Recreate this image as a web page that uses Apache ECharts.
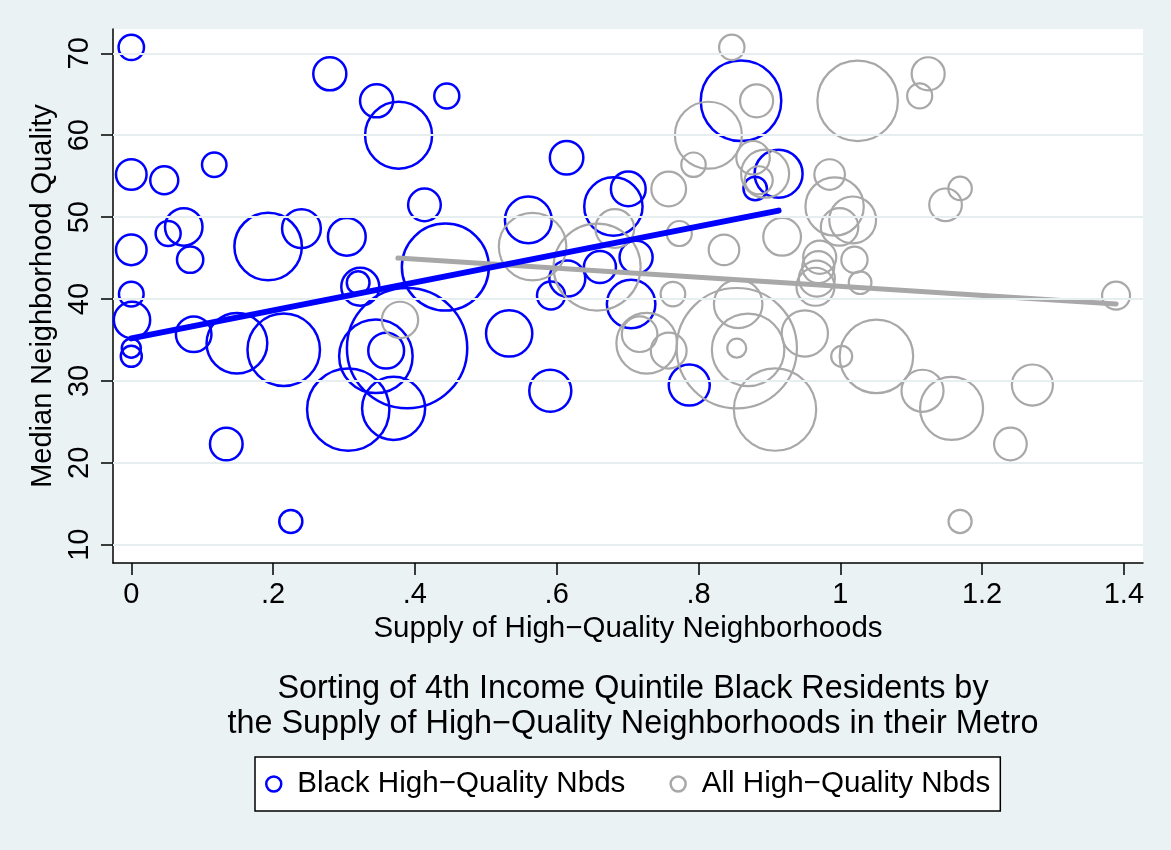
<!DOCTYPE html>
<html>
<head>
<meta charset="utf-8">
<script src="https://cdn.jsdelivr.net/npm/echarts@6/dist/echarts.min.js"></script>
<style>
  html, body { margin: 0; padding: 0; background: #eaf2f3; }
  #chart { width: 1171px; height: 850px; }
</style>
</head>
<body>
<div id="chart"></div>
<script>
// one entry per metro: quality, supply for black residents, supply overall, bubble weight
var quality = [70.73, 67.5, 64.2, 60.0, 64.8, 55.2, 54.5, 56.4, 46.0, 48.0,
    48.8, 44.8, 46.4, 48.6, 47.6, 51.5, 43.9, 42.0, 41.5, 40.6,
    37.45, 34.0, 33.0, 35.7, 34.6, 33.8, 22.3, 12.84, 33.0, 34.0,
    33.7, 26.5, 26.65, 53.5, 55.3, 64.2, 57.25, 51.3, 53.44, 49.66,
    42.5, 43.9, 45.1, 40.42, 39.4, 35.8, 28.8, 29.5];
var supplyBlack = [0, 0.280, 0.346, 0.377, 0.445, 0, 0.0465, 0.117, 0, 0.052,
    0.074, 0.083, 0.193, 0.240, 0.304, 0.4135, 0.443, 0.320, 0.323, 0,
    0.001, 0, 0, 0.088, 0.149, 0.215, 0.134, 0.225, 0.345, 0.389,
    0.3595, 0.306, 0.370, 0.880, 0.913, 0.860, 0.614, 0.680, 0.701, 0.560,
    0.615, 0.661, 0.712, 0.592, 0.705, 0.533, 0.591, 0.787];
var supplyAll = [0.847, 1.124, 0.882, 0.814, 1.112, 0.985, 0.885, 0.793, 0.836, 0.773,
    0.999, 1.020, 0.566, 0.682, 0.918, 1.1485, 0.657, 1.028, 0.965, 0.764,
    0.379, 0.854, 1.002, 0.717, 0.727, 0.870, 1.240, 1.169, 1.051, 0.854,
    0.758, 0.908, 1.157, 1.169, 0.894, 1.0245, 0.877, 0.992, 0.758, 1.0175,
    0.967, 0.969, 0.971, 1.389, 0.856, 0.950, 1.116, 1.271];
var weight = [7.5, 12.3, 12.3, 47.6, 7.3, 10.6, 9.0, 7.0, 10.6, 7.3,
    15.6, 8.0, 48.3, 16.6, 15.8, 12.0, 79.2, 6.1, 16.0, 7.1,
    14.7, 4.4, 5.3, 14.1, 39.3, 55.5, 12.0, 6.3, 57.0, 149.6,
    14.3, 71.1, 42.3, 6.5, 25, 68.1, 12.6, 36.4, 13.5, 23.8,
    14.4, 11.6, 12.3, 9.0, 25.5, 23.3, 19.4, 18.5];

// fitted lines (end points)
var fitBlackX = [0, 0.913], fitBlackY = [35.2, 50.8];
var fitAllX = [0.376, 1.389], fitAllY = [45.0, 39.4];

var xTicks = [0, 0.2, 0.4, 0.6, 0.8, 1, 1.2, 1.4];
var yTicks = [10, 20, 30, 40, 50, 60, 70];

var FONT = '"Liberation Sans", Arial, sans-serif';
var BLUE = '#0000ff', GREY = '#a8a8a8';

var pts = function (xs) {
    return quality.map(function (q, i) { return [xs[i], q, weight[i]]; });
};
var pairs = function (xs, ys) {
    return xs.map(function (x, i) { return [x, ys[i]]; });
};
var bubble = function (v) { return 10 * Math.sqrt(v[2]) - 2; };

var chart = echarts.init(document.getElementById('chart'));
chart.setOption({
    backgroundColor: '#eaf2f3',
    animation: false,
    textStyle: { fontFamily: FONT },
    title: {
        text: 'Sorting of 4th Income Quintile Black Residents by\nthe Supply of High\u2212Quality Neighborhoods in their Metro',
        left: 628,
        top: 667,
        textAlign: 'center',
        textStyle: { fontFamily: FONT, fontSize: 32.4, fontWeight: 'normal', color: '#000', lineHeight: 35 }
    },
    legend: {
        left: 255,
        top: 757,
        padding: [12, 10, 12, 10],
        itemGap: 44,
        itemWidth: 15,
        itemHeight: 15,
        backgroundColor: '#fff',
        borderColor: '#000',
        borderWidth: 1.5,
        borderRadius: 0,
        textStyle: { fontFamily: FONT, fontSize: 29.6, color: '#000', padding: [0, 0, 0, 11] },
        data: [
            { name: 'Black High\u2212Quality Nbds', icon: 'circle',
              itemStyle: { color: 'rgba(0,0,0,0)', borderColor: BLUE, borderWidth: 2.5 } },
            { name: 'All High\u2212Quality Nbds', icon: 'circle',
              itemStyle: { color: 'rgba(0,0,0,0)', borderColor: GREY, borderWidth: 2.5 } }
        ]
    },
    grid: {
        left: 113, top: 29, right: 28, bottom: 287,
        show: true, backgroundColor: '#fff', borderWidth: 0
    },
    xAxis: {
        type: 'value',
        min: -0.0258, max: 1.427,
        name: 'Supply of High\u2212Quality Neighborhoods',
        nameLocation: 'middle',
        nameGap: 46,
        nameTextStyle: { fontFamily: FONT, fontSize: 29.5, color: '#000' },
        axisLine: { show: true, onZero: false, lineStyle: { color: '#000', width: 1.5 } },
        axisTick: { show: true, customValues: xTicks, length: 12, lineStyle: { color: '#000', width: 1.5 } },
        axisLabel: {
            customValues: xTicks, margin: 17, fontFamily: FONT, fontSize: 29, color: '#000',
            formatter: function (v) { return String(Number(v.toFixed(1))).replace(/^0\./, '.'); }
        },
        splitLine: { show: false }
    },
    yAxis: {
        type: 'value',
        min: 7.77, max: 72.97,
        name: 'Median Neighborhood Quality',
        nameLocation: 'middle',
        nameRotate: 90,
        nameGap: 38,
        nameTextStyle: { fontFamily: FONT, fontSize: 29, color: '#000' },
        axisLine: { show: true, onZero: false, lineStyle: { color: '#000', width: 1.5 } },
        axisTick: { show: true, customValues: yTicks, length: 12, lineStyle: { color: '#000', width: 1.5 } },
        axisLabel: { customValues: yTicks, rotate: 90, margin: 19, fontFamily: FONT, fontSize: 29, color: '#000' },
        splitLine: { show: false }
    },
    series: [
        {
            type: 'line', data: [], silent: true, z: 1,
            markLine: {
                silent: true, symbol: 'none', label: { show: false },
                lineStyle: { color: '#e6eef0', width: 2, type: 'solid' },
                data: yTicks.map(function (t) { return { yAxis: t }; })
            }
        },
        {
            name: 'Black High\u2212Quality Nbds', type: 'scatter', z: 3,
            symbol: 'circle', symbolSize: bubble,
            itemStyle: { color: 'rgba(0,0,0,0)', borderColor: BLUE, borderWidth: 2.5, opacity: 1 },
            data: pts(supplyBlack)
        },
        {
            name: 'All High\u2212Quality Nbds', type: 'scatter', z: 3,
            symbol: 'circle', symbolSize: bubble,
            itemStyle: { color: 'rgba(0,0,0,0)', borderColor: GREY, borderWidth: 2.2, opacity: 1 },
            data: pts(supplyAll)
        },
        {
            type: 'line', z: 4, symbol: 'none', silent: true,
            lineStyle: { color: GREY, width: 5, cap: 'round' },
            data: pairs(fitAllX, fitAllY)
        },
        {
            type: 'line', z: 5, symbol: 'none', silent: true,
            lineStyle: { color: BLUE, width: 6, cap: 'round' },
            data: pairs(fitBlackX, fitBlackY)
        }
    ]
});
</script>
</body>
</html>
